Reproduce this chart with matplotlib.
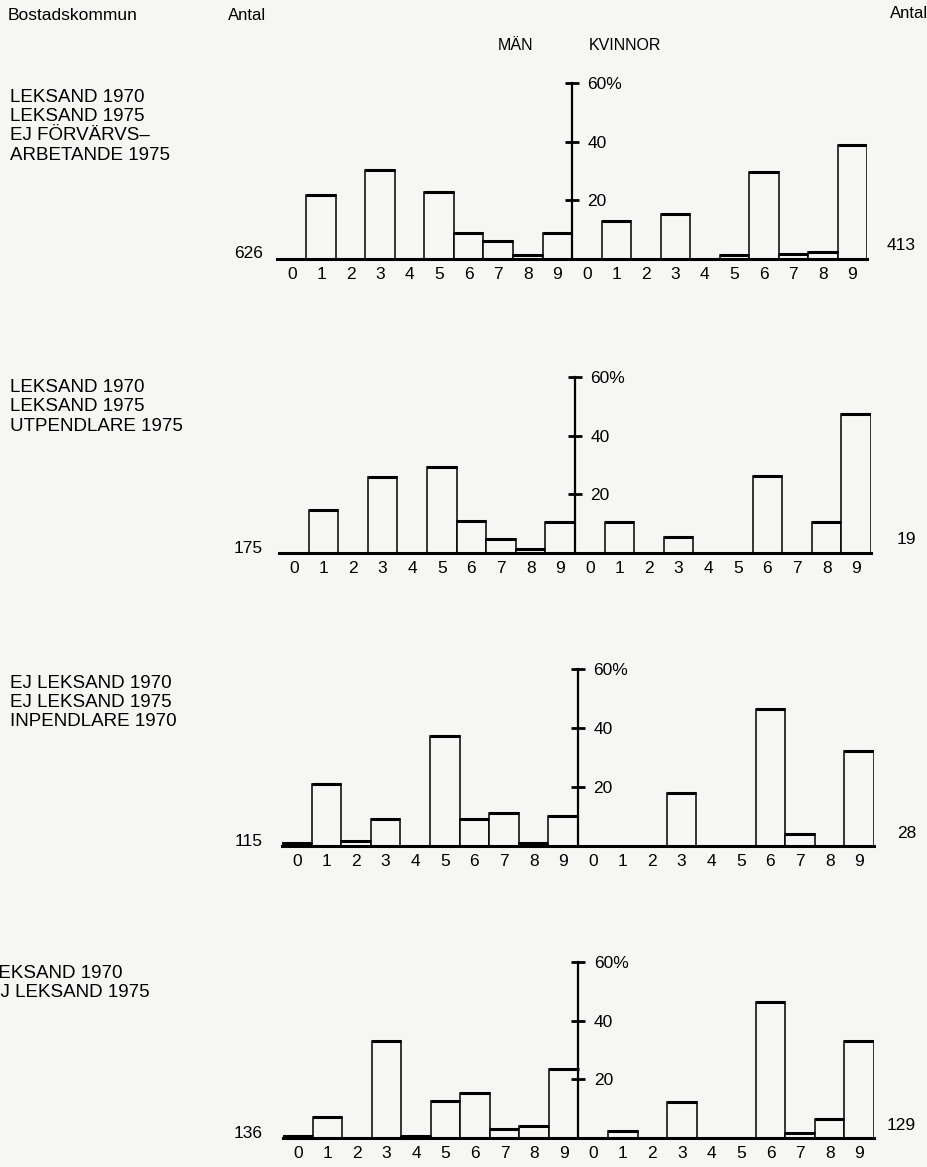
import matplotlib
matplotlib.use("Agg")
import matplotlib.pyplot as plt
from matplotlib import font_manager
import numpy as np

W, H = 928, 1167
BG = '#f6f6f4'

# decile groups 0-9 for men and women, percent of each group
digits = [str(d) for d in range(10)]
group_labels = [
    ["LEKSAND 1970", "LEKSAND 1975", "EJ FÖRVÄRVS–", "ARBETANDE 1975"],
    ["LEKSAND 1970", "LEKSAND 1975", "UTPENDLARE 1975"],
    ["EJ LEKSAND 1970", "EJ LEKSAND 1975", "INPENDLARE 1970"],
    ["LEKSAND 1970", "EJ LEKSAND 1975"],
]
men_n = [626, 175, 115, 136]
women_n = [413, 19, 28, 129]
men_pct = [
    [0, 21.7, 0, 30.4, 0, 23.0, 8.9, 6.0, 1.3, 8.9],
    [0, 14.8, 0, 25.8, 0, 29.3, 11.0, 4.8, 1.4, 10.7],
    [0.9, 21.0, 1.7, 9.0, 0, 37.3, 9.0, 11.3, 0.9, 10.2],
    [0.7, 7.2, 0, 33.0, 0.7, 12.7, 15.3, 3.0, 4.2, 23.6],
]
women_pct = [
    [0, 13.1, 0, 15.2, 0, 1.5, 29.7, 1.7, 2.4, 38.9],
    [0, 10.5, 0, 5.3, 0, 0, 26.3, 0, 10.5, 47.4],
    [0, 0, 0, 18.0, 0, 0, 46.5, 4.0, 0, 32.3],
    [0, 2.4, 0, 12.4, 0, 0, 46.4, 1.6, 6.4, 33.2],
]

# layout in pixels: left, right, baseline y, 60% y
boxes = [(277, 867, 259, 83), (279, 871, 553, 377),
         (282, 874, 846, 669), (283, 874, 1138, 962)]
label_x = [10, 10, 10, -12]
label_y0 = [97, 387, 683, 973]

names = {f.name for f in font_manager.fontManager.ttflist}
NARROW = 'Liberation Sans Narrow' if 'Liberation Sans Narrow' in names else 'Liberation Sans'
plt.rcParams['font.family'] = ['Liberation Sans', 'DejaVu Sans']

fig = plt.figure(figsize=(W / 100, H / 100), dpi=100, facecolor=BG)

def ftext(x, y, s, **kw):
    fig.text(x / W, 1 - y / H, s, **kw)

ftext(8, 15, "Bostadskommun", fontsize=12.5, va='center')
ftext(228, 15, "Antal", fontsize=12, va='center')
ftext(928, 13, "Antal", fontsize=12, va='center', ha='right')
ftext(498, 46, "MÄN", fontsize=11.5, va='center')
ftext(589, 46, "KVINNOR", fontsize=11.5, va='center')

for i, (l, r, b, t) in enumerate(boxes):
    ax = fig.add_axes([l / W, 1 - b / H, (r - l) / W, (b - t) / H])
    ax.set_facecolor('none')
    vals = np.array(men_pct[i] + women_pct[i])
    x = np.arange(20)
    ax.bar(x, vals, width=1, color=BG, edgecolor='black', linewidth=1.1)
    top = vals > 0
    ax.hlines(vals[top], x[top] - 0.5, x[top] + 0.5, color='black', lw=2.2)
    ax.set_xlim(-0.5, 19.5)
    ax.set_ylim(0, 60)
    for s in ['left', 'top']:
        ax.spines[s].set_visible(False)
    ax.spines['bottom'].set_linewidth(2.2)
    ax.spines['right'].set_position(('data', 9.5))
    ax.spines['right'].set_linewidth(1.6)
    ax.yaxis.tick_right()
    ax.set_yticks([20, 40, 60])
    ax.set_yticklabels(['20', '40', '60%'], family=NARROW, fontsize=12.5)
    ax.tick_params(axis='y', direction='inout', length=10, width=2, pad=6)
    ax.set_xticks(x)
    ax.set_xticklabels(digits * 2, family=NARROW, fontsize=12.5)
    ax.tick_params(axis='x', length=0, pad=6)

    ftext(263, b - 5, str(men_n[i]), fontsize=12.5, family=NARROW, ha='right', va='center')
    ftext(916, b - 13, str(women_n[i]), fontsize=12.5, family=NARROW, ha='right', va='center')
    for k, line in enumerate(group_labels[i]):
        ftext(label_x[i], label_y0[i] + 19.5 * k, line, fontsize=13.5, va='center')

fig.savefig('out.png', dpi=100, facecolor=BG)
